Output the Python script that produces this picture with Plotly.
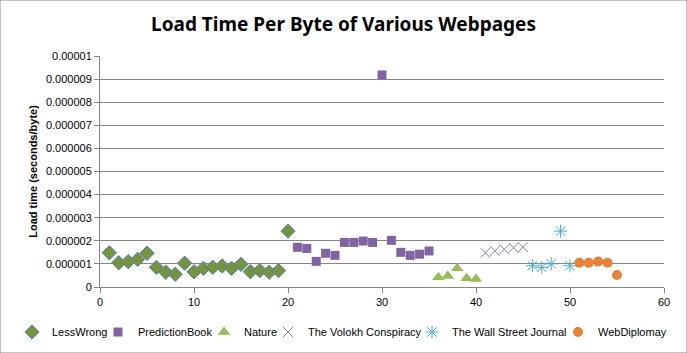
import plotly.graph_objects as go

lw_x = list(range(1, 21))
lw_y = [1.48e-6, 1.05e-6, 1.10e-6, 1.20e-6, 1.46e-6, 0.85e-6, 0.64e-6, 0.55e-6, 1.03e-6, 0.66e-6,
        0.81e-6, 0.85e-6, 0.91e-6, 0.81e-6, 0.98e-6, 0.66e-6, 0.71e-6, 0.64e-6, 0.71e-6, 2.42e-6]
pb_x = list(range(21, 36))
pb_y = [1.72e-6, 1.67e-6, 1.11e-6, 1.46e-6, 1.37e-6, 1.93e-6, 1.93e-6, 1.99e-6, 1.93e-6, 9.18e-6,
        2.02e-6, 1.50e-6, 1.37e-6, 1.42e-6, 1.56e-6]
na_x = list(range(36, 41))
na_y = [0.42e-6, 0.48e-6, 0.81e-6, 0.38e-6, 0.35e-6]
vc_x = list(range(41, 46))
vc_y = [1.48e-6, 1.56e-6, 1.63e-6, 1.70e-6, 1.72e-6]
wsj_x = list(range(46, 51))
wsj_y = [0.92e-6, 0.85e-6, 1.00e-6, 2.42e-6, 0.92e-6]
wd_x = list(range(51, 56))
wd_y = [1.05e-6, 1.05e-6, 1.10e-6, 1.05e-6, 0.52e-6]

y_ticks = [i * 1e-6 for i in range(11)]
y_labels = ["0", "0.000001", "0.000002", "0.000003", "0.000004", "0.000005",
            "0.000006", "0.000007", "0.000008", "0.000009", "0.00001"]
x_ticks = [0, 10, 20, 30, 40, 50, 60]

series = [
    ("LessWrong", lw_x, lw_y, dict(symbol="diamond", size=11, color="#77933C",
                                   line=dict(color="#4F81BD", width=1))),
    ("PredictionBook", pb_x, pb_y, dict(symbol="square", size=9, color="#8064A2",
                                        line=dict(width=0))),
    ("Nature", na_x, na_y, dict(symbol="triangle-up", size=11, color="#9BBB59",
                                line=dict(width=0))),
    ("The Volokh Conspiracy", vc_x, vc_y, dict(symbol="x-thin", size=10, color="#8D7BB5",
                                               line=dict(color="#8D7BB5", width=1))),
    ("The Wall Street Journal", wsj_x, wsj_y, dict(symbol="asterisk", size=11, color="#4BACC6",
                                                   line=dict(color="#4BACC6", width=1))),
    ("WebDiplomay", wd_x, wd_y, dict(symbol="circle", size=10, color="#E8823A",
                                     line=dict(width=0))),
]

# left edge (px) of each legend entry box
legend_left_px = [12, 98, 204, 268, 412, 558]
plot_l, plot_w, plot_b, plot_h = 100, 564, 287, 231

fig = go.Figure()
layout_legends = {}
for i, (name, xs, ys, mk) in enumerate(series):
    lname = "legend" if i == 0 else f"legend{i + 1}"
    fig.add_trace(go.Scatter(x=xs, y=ys, mode="markers", name=name, marker=mk,
                             legend=lname))
    layout_legends[lname] = dict(
        x=(legend_left_px[i] - plot_l) / plot_w, xanchor="left",
        y=-(332 - plot_b) / plot_h, yanchor="middle",
        bgcolor="rgba(0,0,0,0)", borderwidth=0,
        font=dict(size=11, family="Liberation Sans, Arial, sans-serif", color="#000"),
    )

fig.update_layout(
    width=687, height=353,
    margin=dict(l=100, r=23, t=56, b=66, autoexpand=False),
    paper_bgcolor="white", plot_bgcolor="white",
    font=dict(family="Liberation Sans, Arial, sans-serif", size=11, color="#000000"),
    title=dict(text="<b>Load Time Per Byte of Various Webpages</b>", x=0.5, xanchor="center",
               y=0.93, yanchor="middle",
               font=dict(family="Noto Sans, Open Sans, sans-serif", size=19, color="#000")),
    showlegend=True,
    xaxis=dict(range=[0, 60], tickvals=x_ticks, showgrid=False, zeroline=False,
               showline=True, linecolor="#868686", linewidth=1,
               ticks="outside", ticklen=5, tickcolor="#868686",
               tickfont=dict(size=11, color="#000")),
    yaxis=dict(range=[0, 1e-5], tickvals=y_ticks, ticktext=y_labels,
               showgrid=True, gridcolor="#868686", gridwidth=1, zeroline=False,
               showline=True, linecolor="#868686", linewidth=1,
               ticks="outside", ticklen=5, tickcolor="#868686",
               tickfont=dict(size=11, color="#000"),
               title=dict(text="<b>Load time (seconds/byte)</b>", standoff=6,
                          font=dict(size=11, color="#000"))),
    **layout_legends,
)
fig.add_shape(type="rect", xref="paper", yref="paper", x0=-100/564, x1=1 + 23/564,
              y0=-66/231, y1=1 + 56/231, line=dict(color="#868686", width=1), layer="below")

fig.write_html("out.html")
